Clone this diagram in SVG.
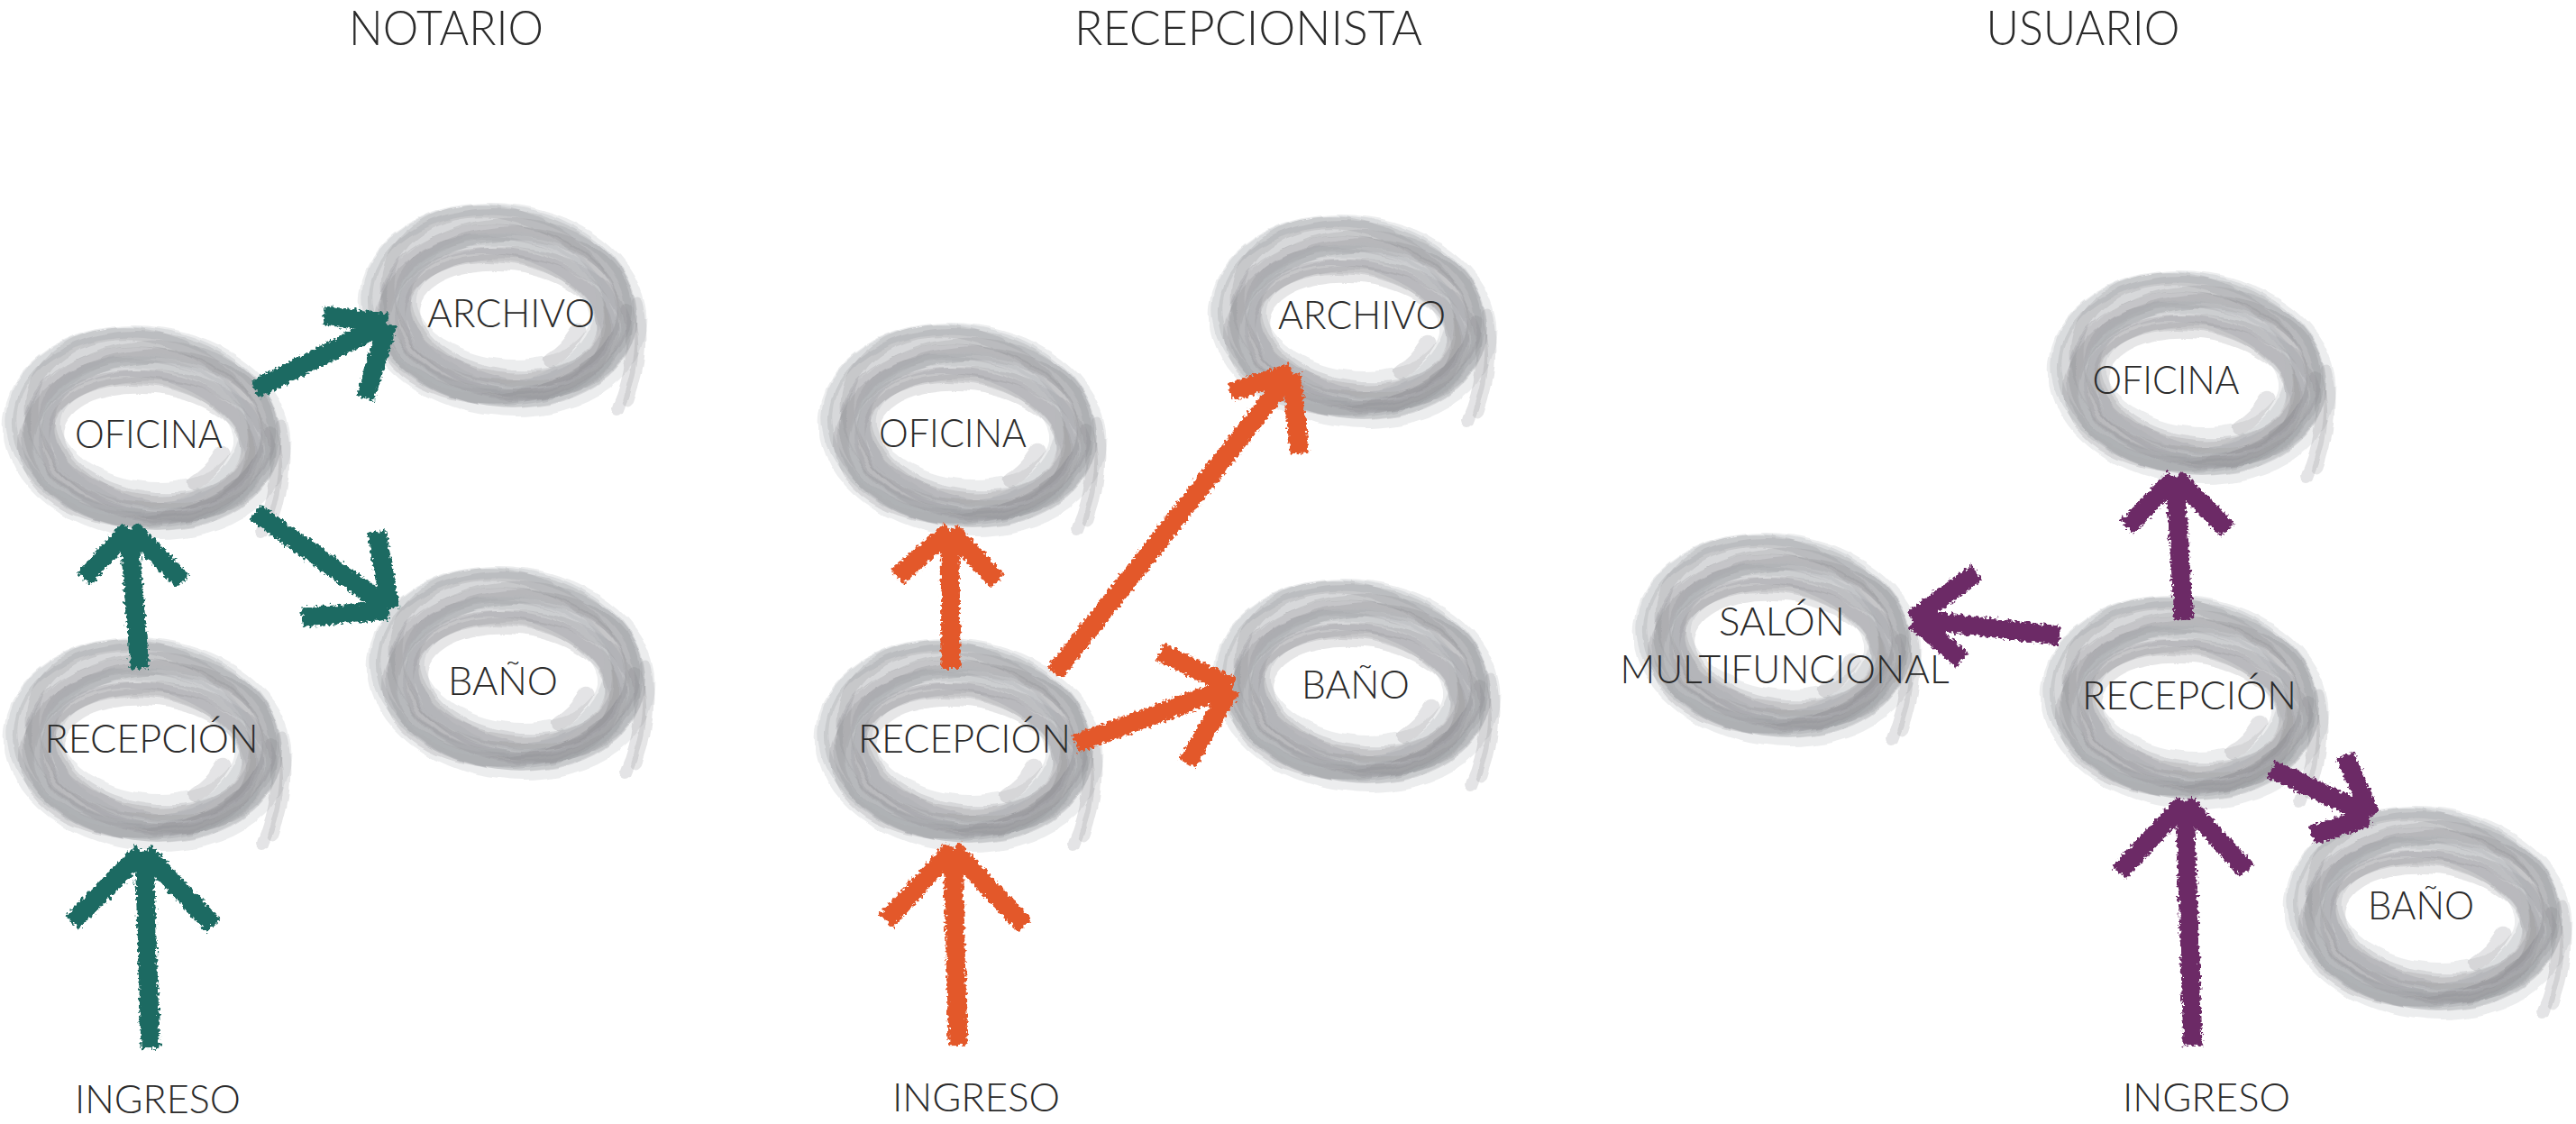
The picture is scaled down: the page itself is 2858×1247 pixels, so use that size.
<svg xmlns="http://www.w3.org/2000/svg" xmlns:xlink="http://www.w3.org/1999/xlink" width="2858" height="1247" viewBox="0 0 2858 1247">
<style>
  .t { font-family: Lato, Inter, "Liberation Sans", sans-serif; font-weight: 300; fill: #2b2b2b; text-anchor: middle; }
  .title { font-size: 53px; }
  .lbl { font-size: 44px; }
  .s { fill: none; stroke: #8e8f93; stroke-opacity: 0.22; stroke-linecap: round; }
  .d { fill: none; stroke: #7c7d81; stroke-opacity: 0.2; stroke-linecap: round; }
  .l { fill: none; stroke: #b4b5b8; stroke-opacity: 0.3; stroke-linecap: round; }
  .h { fill: none; stroke: #c9cacd; stroke-opacity: 0.35; }
  .arrow { fill: none; stroke-width: 21; stroke-linecap: butt; stroke-linejoin: round; }
  .teal { stroke: #1d6a62; }
  .orange { stroke: #e3592c; }
  .purple { stroke: #6c2a66; }
</style>
<defs>
  <filter id="rough" filterUnits="userSpaceOnUse" x="0" y="0" width="2858" height="1247">
    <feTurbulence type="fractalNoise" baseFrequency="0.28" numOctaves="2" seed="4" result="n"/>
    <feDisplacementMap in="SourceGraphic" in2="n" scale="9" xChannelSelector="R" yChannelSelector="G"/>
  </filter>
  <filter id="wobble" x="-20%" y="-20%" width="140%" height="140%">
    <feTurbulence type="fractalNoise" baseFrequency="0.03" numOctaves="2" seed="7" result="w"/>
    <feDisplacementMap in="SourceGraphic" in2="w" scale="8" xChannelSelector="R" yChannelSelector="G"/>
  </filter>
  <g id="ring" filter="url(#wobble)">
    <g transform="rotate(8)">
      <ellipse class="h" cx="0" cy="0" rx="128" ry="86" stroke-width="64"/>
      <ellipse class="l" cx="-4" cy="-4" rx="147" ry="106" stroke-width="12"/>
      <ellipse class="s" cx="0" cy="-2" rx="140" ry="101" stroke-width="18"/>
      <ellipse class="s" cx="4" cy="2" rx="132" ry="94" stroke-width="20" transform="rotate(-10)"/>
      <ellipse class="d" cx="-3" cy="0" rx="125" ry="86" stroke-width="18" transform="rotate(-4)"/>
      <ellipse class="s" cx="6" cy="6" rx="118" ry="76" stroke-width="20" transform="rotate(9)"/>
      <ellipse class="d" cx="2" cy="8" rx="112" ry="68" stroke-width="16"/>
      <ellipse class="l" cx="10" cy="4" rx="121" ry="82" stroke-width="14" transform="rotate(6)"/>
      <ellipse class="s" cx="8" cy="10" rx="108" ry="63" stroke-width="18"/>
      <ellipse class="d" cx="0" cy="6" rx="135" ry="90" stroke-width="16" transform="rotate(-14)"/>
      <ellipse class="s" cx="-6" cy="-6" rx="128" ry="98" stroke-width="14" transform="rotate(12)"/>
      <ellipse class="s" cx="12" cy="14" rx="126" ry="78" stroke-width="12" transform="rotate(-3)"/>
      <ellipse class="l" cx="-8" cy="2" rx="116" ry="84" stroke-width="10" transform="rotate(-18)"/>
      <path class="d" d="M 136 -20 C 152 15, 152 55, 142 90" stroke-width="14"/>
      <path class="s" d="M 146 -30 C 160 10, 158 50, 152 80" stroke-width="12"/>
      <path class="d" d="M 60 48 C 72 38, 80 26, 86 12" stroke-width="16" stroke-opacity="0.35"/>
    </g>
  </g>
</defs>
<rect width="2858" height="1247" fill="#ffffff"/>

<g id="titles">
  <text class="t title" x="495" y="50" textLength="216" lengthAdjust="spacingAndGlyphs">NOTARIO</text>
  <text class="t title" x="1385" y="50" textLength="386" lengthAdjust="spacingAndGlyphs">RECEPCIONISTA</text>
  <text class="t title" x="2311" y="50" textLength="215" lengthAdjust="spacingAndGlyphs">USUARIO</text>
</g>

<!-- NOTARIO nodes -->
<g id="notario-archivo"><use href="#ring" transform="translate(558,344)"/><text class="t lbl" x="567" y="363" textLength="186" lengthAdjust="spacingAndGlyphs">ARCHIVO</text></g>
<g id="notario-oficina"><use href="#ring" transform="translate(163,480)"/><text class="t lbl" x="165" y="497" textLength="164" lengthAdjust="spacingAndGlyphs">OFICINA</text></g>
<g id="notario-bano"><use href="#ring" transform="translate(567,747)"/><text class="t lbl" x="558" y="771" textLength="122" lengthAdjust="spacingAndGlyphs">BAÑO</text></g>
<g id="notario-recepcion"><use href="#ring" transform="translate(164,826)"/><text class="t lbl" x="168" y="835" textLength="237" lengthAdjust="spacingAndGlyphs">RECEPCIÓN</text></g>
<g id="notario-ingreso"><text class="t lbl" x="175" y="1235" textLength="184" lengthAdjust="spacingAndGlyphs">INGRESO</text></g>

<!-- RECEPCIONISTA nodes -->
<g id="recep-oficina"><use href="#ring" transform="translate(1068,477)"/><text class="t lbl" x="1057" y="496" textLength="164" lengthAdjust="spacingAndGlyphs">OFICINA</text></g>
<g id="recep-archivo"><use href="#ring" transform="translate(1501,357)"/><text class="t lbl" x="1511" y="365" textLength="186" lengthAdjust="spacingAndGlyphs">ARCHIVO</text></g>
<g id="recep-bano"><use href="#ring" transform="translate(1505,761)"/><text class="t lbl" x="1504" y="775" textLength="120" lengthAdjust="spacingAndGlyphs">BAÑO</text></g>
<g id="recep-recepcion"><use href="#ring" transform="translate(1064,827)"/><text class="t lbl" x="1070" y="835" textLength="236" lengthAdjust="spacingAndGlyphs">RECEPCIÓN</text></g>
<g id="recep-ingreso"><text class="t lbl" x="1083" y="1233" textLength="186" lengthAdjust="spacingAndGlyphs">INGRESO</text></g>

<!-- USUARIO nodes -->
<g id="usuario-oficina"><use href="#ring" transform="translate(2432,419)"/><text class="t lbl" x="2403" y="437" textLength="163" lengthAdjust="spacingAndGlyphs">OFICINA</text></g>
<g id="usuario-salon"><use href="#ring" transform="translate(1972,710)"/><text class="t lbl" x="1977" y="705" textLength="140" lengthAdjust="spacingAndGlyphs">SALÓN</text><text class="t lbl" x="1980" y="758" textLength="365" lengthAdjust="spacingAndGlyphs">MULTIFUNCIONAL</text></g>
<g id="usuario-recepcion"><use href="#ring" transform="translate(2424,779)"/><text class="t lbl" x="2429" y="787" textLength="238" lengthAdjust="spacingAndGlyphs">RECEPCIÓN</text></g>
<g id="usuario-bano"><use href="#ring" transform="translate(2694,1013)"/><text class="t lbl" x="2686" y="1020" textLength="118" lengthAdjust="spacingAndGlyphs">BAÑO</text></g>
<g id="usuario-ingreso"><text class="t lbl" x="2448" y="1233" textLength="186" lengthAdjust="spacingAndGlyphs">INGRESO</text></g>

<g id="connectors" filter="url(#rough)">
  <!-- NOTARIO -->
  <path class="arrow teal" d="M 167 1163 L 160 945 M 80 1023 L 158 945 M 237 1027 L 160 945"/>
  <path class="arrow teal" d="M 155 742 L 143 587 M 93 642 L 143 587 M 203 645 L 145 587"/>
  <path class="arrow teal" d="M 283 432 L 430 358 M 359 350 L 430 358 M 405 442 L 430 360"/>
  <path class="arrow teal" d="M 283 568 L 433 675 M 418 590 L 433 675 M 335 685 L 431 677"/>
  <!-- RECEPCIONISTA -->
  <path class="arrow orange" d="M 1063 1160 L 1057 942 M 983 1022 L 1057 942 M 1137 1027 L 1057 942"/>
  <path class="arrow orange" d="M 1055 742 L 1054 589 M 995 640 L 1054 589 M 1107 645 L 1055 589"/>
  <path class="arrow orange" d="M 1170 747 L 1433 413 M 1365 435 L 1433 413 M 1442 503 L 1433 415"/>
  <path class="arrow orange" d="M 1193 825 L 1367 762 M 1287 723 L 1367 762 M 1317 847 L 1366 764"/>
  <!-- USUARIO -->
  <path class="arrow purple" d="M 2433 1160 L 2424 890 M 2351 968 L 2424 890 M 2493 966 L 2424 890"/>
  <path class="arrow purple" d="M 2423 687 L 2413 530 M 2360 585 L 2413 530 M 2472 588 L 2414 530"/>
  <path class="arrow purple" d="M 2285 705 L 2122 687 M 2193 635 L 2122 687 M 2177 732 L 2124 688"/>
  <path class="arrow purple" d="M 2520 853 L 2630 905 M 2602 838 L 2630 905 M 2565 927 L 2628 906"/>
</g>
</svg>
